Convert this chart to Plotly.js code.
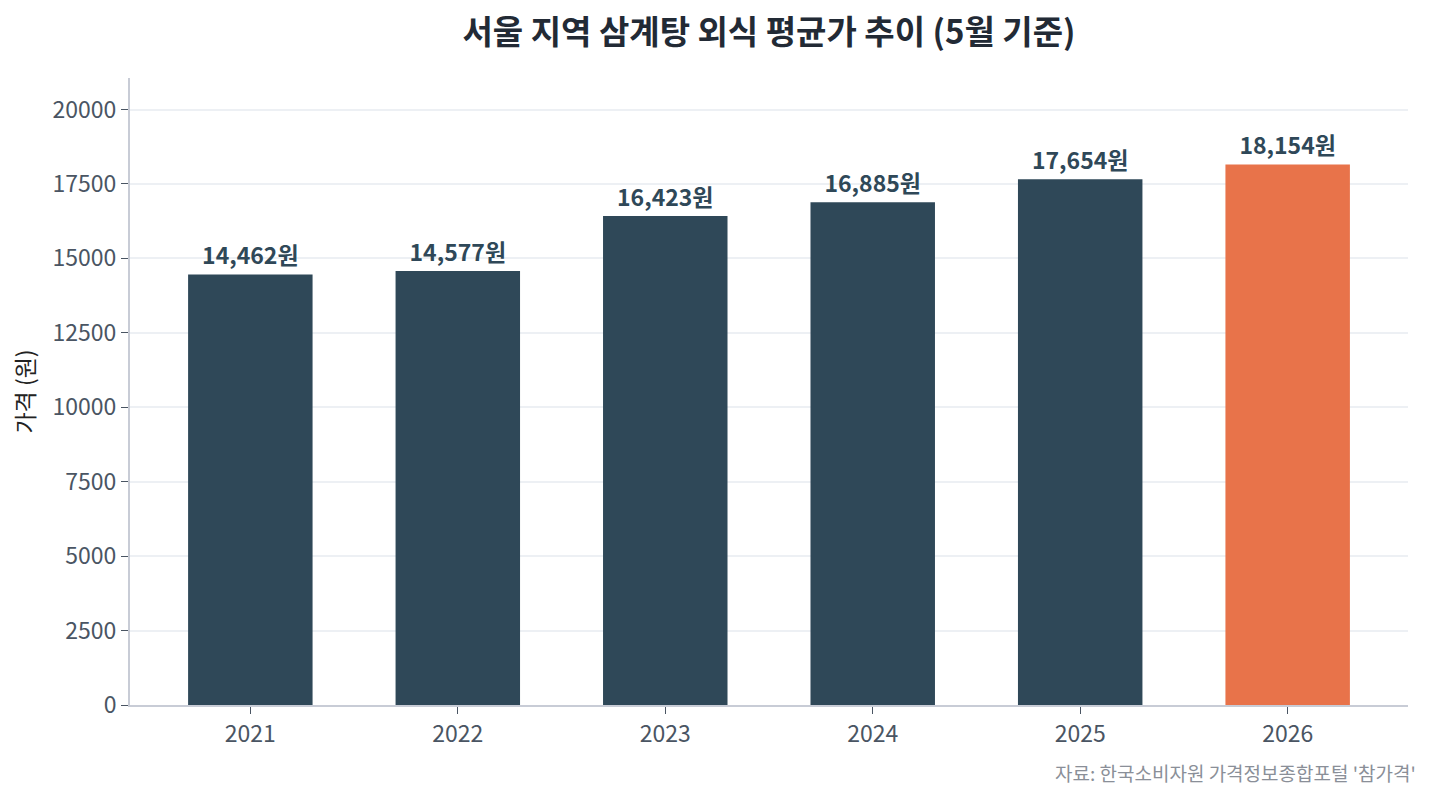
<!DOCTYPE html>
<html>
<head>
<meta charset="utf-8">
<script src="https://cdn.plot.ly/plotly-3.0.1.min.js"></script>
<style>
  html, body { margin: 0; padding: 0; background: #fff; }
  #chart { width: 1433px; height: 801px; }
</style>
</head>
<body>
<div id="chart"></div>
<script>
// data
const years = ["2021", "2022", "2023", "2024", "2025", "2026"];
const prices = [14462, 14577, 16423, 16885, 17654, 18154];
const barColors = ["#2f4858", "#2f4858", "#2f4858", "#2f4858", "#2f4858", "#e8734a"];

const font = '"Noto Sans CJK KR", "Noto Sans", sans-serif';

const trace = {
    x: years,
    y: prices,
    type: 'bar',
    width: 0.6,
    marker: { color: barColors },
    text: prices.map(v => v.toLocaleString('en-US') + '원'),
    textposition: 'outside',
    textfont: { family: font, size: 23, color: '#2f4858', weight: 'bold' },
    cliponaxis: false,
    hoverinfo: 'x+y'
};

const layout = {
    width: 1433,
    height: 801,
    margin: { l: 130, r: 25, t: 78, b: 96 },
    paper_bgcolor: '#ffffff',
    plot_bgcolor: '#ffffff',
    font: { family: font, color: '#4a5563', size: 23 },
    title: {
        text: '<b>서울 지역 삼계탕 외식 평균가 추이 (5월 기준)</b>',
        font: { family: font, size: 33, color: '#222a35' },
        x: 0.5, xref: 'paper', xanchor: 'center',
        y: 0.96, yanchor: 'middle'
    },
    xaxis: {
        type: 'category',
        range: [-0.58, 5.58],
        showline: true, linecolor: '#c8ccd6', linewidth: 2,
        ticks: 'outside', ticklen: 7, tickcolor: '#4a5563', tickwidth: 1,
        showgrid: false,
        tickfont: { family: font, size: 23, color: '#4a5563' }
    },
    yaxis: {
        range: [0, 21058],
        tickvals: [0, 2500, 5000, 7500, 10000, 12500, 15000, 17500, 20000],
        ticktext: ['0', '2500', '5000', '7500', '10000', '12500', '15000', '17500', '20000'],
        showline: true, linecolor: '#c8ccd6', linewidth: 2,
        ticks: 'outside', ticklen: 7, tickcolor: '#4a5563', tickwidth: 1,
        showgrid: true, gridcolor: '#edf0f4', gridwidth: 1.5,
        zeroline: false,
        tickfont: { family: font, size: 23, color: '#4a5563' },
        title: { text: '가격 (원)', font: { family: font, size: 23, color: '#222222' }, standoff: 12 }
    },
    annotations: [{
        text: "자료: 한국소비자원 가격정보종합포털 '참가격'",
        xref: 'paper', yref: 'paper',
        x: 1.0078, y: -0.107,
        xanchor: 'right', yanchor: 'middle',
        showarrow: false,
        font: { family: font, size: 19, color: '#8a8f98' }
    }],
    showlegend: false,
    bargap: 0.4
};

Plotly.newPlot('chart', [trace], layout, { displayModeBar: false, responsive: false });
</script>
</body>
</html>
